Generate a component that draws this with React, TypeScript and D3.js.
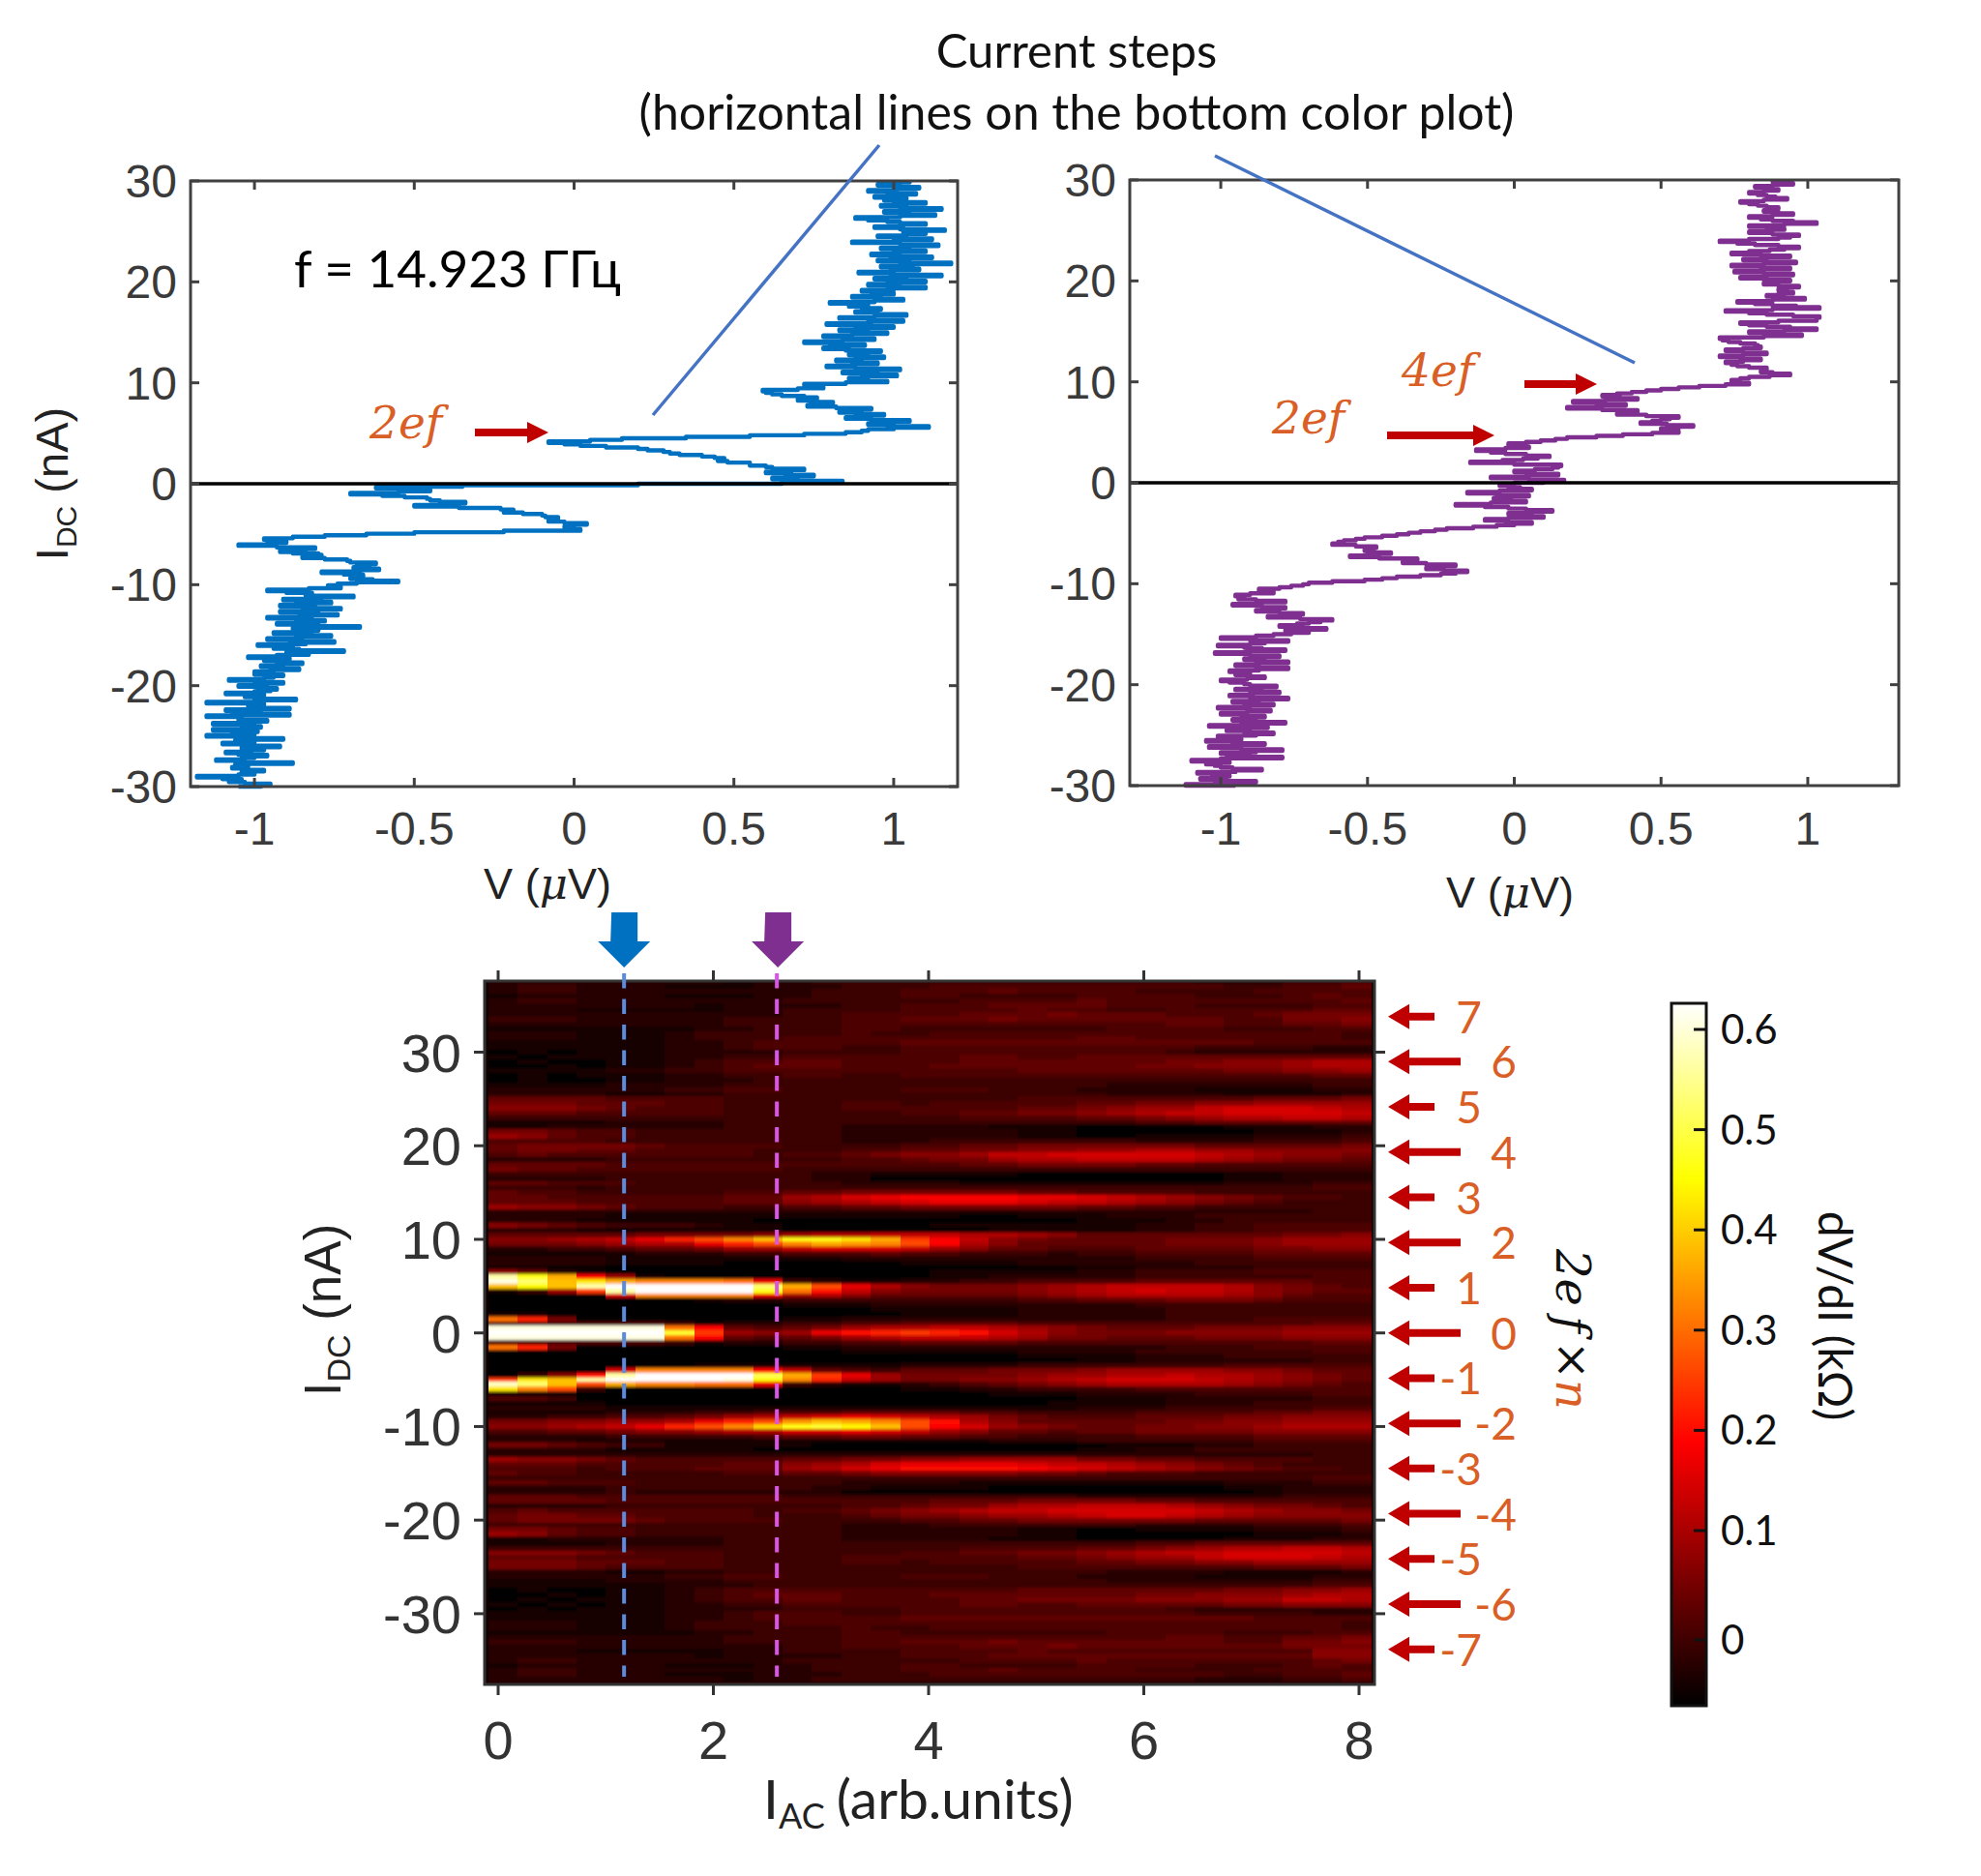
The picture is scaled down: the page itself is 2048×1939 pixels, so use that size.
import React from "react";
import * as d3 from "d3";

// I axis of the two V(I) traces: -30 .. 30 nA in 0.15 nA steps, 20 values per line
const blueV = [
  -1.05,-.98,-.95,-1.03,-1.08,-1.04,-1.1,-1.18,-1.05,-1,-1.04,-.97,-1.02,-1.07,-1.02,-1.06,-.88,-1.03,-1.12,-1.04,
  -1,-.96,-1.05,-1.09,-1.01,-.97,-1.04,-.92,-1.03,-1.1,-1,-1.06,-.91,-1.03,-1.15,-1,-1.07,-.99,-1.13,-1.03,
  -.98,-1.04,-1.13,-1,-.96,-1.05,-1.04,-1.15,-.89,-.98,-1.07,-1.09,-.89,-1,-1.02,-.97,-1.15,-.99,-.87,-1,
  -1.03,-.97,-1.09,-1,-.95,-.93,-.99,-1.05,-.96,-.91,-1,-1.08,-.97,-.94,-.91,-1,-1,-.94,-.86,-.95,
  -.98,-.91,-.85,-.93,-.97,-.89,-1.02,-.93,-.83,-.9,-.72,-.86,-.94,-.88,-.99,-.84,-.75,-.89,-.96,-.85,
  -.76,-.87,-.94,-.82,-.8,-.88,-.67,-.84,-.93,-.8,-.78,-.87,-.96,-.82,-.74,-.86,-.92,-.8,-.73,-.85,
  -.92,-.81,-.76,-.87,-.91,-.79,-.69,-.84,-.82,-.9,-.96,-.83,-.73,-.77,-.74,-.68,-.55,-.63,-.7,-.66,
  -.66,-.72,-.79,-.67,-.61,-.69,-.68,-.64,-.62,-.7,-.71,-.78,-.85,-.79,-.8,-.88,-.92,-.84,-.81,-.93,
  -1.05,-.95,-.9,-.96,-.97,-.88,-.78,-.65,-.5,-.22,.02,-.01,-.03,0,.04,-.03,-.08,-.06,-.05,-.09,
  -.1,-.16,-.22,-.19,-.23,-.36,-.5,-.4,-.34,-.42,-.45,-.46,-.53,-.6,-.7,-.55,-.45,-.55,-.62,-.35,
  .2,.65,.84,.7,.62,.7,.75,.66,.6,.68,.72,.62,.6,.55,.55,.48,.45,.47,.44,.4,
  .33,.3,.28,.23,.2,.1,.02,-.03,-.08,.05,.15,.35,.55,.72,.85,.9,.92,1,1.11,.98,
  .92,1,1.05,.93,.85,.92,.97,.88,.83,.9,.93,.82,.73,.78,.81,.74,.7,.76,.72,.65,
  .62,.6,.59,.7,.78,.74,.72,.85,.98,.9,.86,.92,1.01,.9,.84,.95,1.02,.88,.79,.87,
  .95,.87,.82,.9,.97,.88,.86,.92,.96,.85,.78,.86,.91,.8,.72,.84,.94,.86,.78,.87,
  .98,.9,.83,.92,1,.88,.79,.93,1.03,.92,.83,.94,1.04,.95,.88,.94,.96,.9,.86,.92,
  .8,.94,1.03,.95,.87,.96,1,.93,.9,1,1.1,.98,.92,1.02,1.1,.98,.94,1.04,1.15,.99,
  .89,1,1.08,.99,.96,1.06,1.18,1.02,.95,1.05,1.12,.99,.93,1.02,1.1,1,.96,1.05,1.14,1.02,
  .87,1,1.12,1.02,.95,1.04,1.1,1.03,1.16,1.02,.94,1.03,1.1,1.02,.98,.92,.88,1.02,1.13,1.03,
  .97,1.05,1.15,1.02,.96,1.04,1.1,1,.97,1.04,.94,1.01,1.07,.98,.92,1.01,1.08,1,.95,1.02,
  1.05,
];

const purpleV = [
  -.95,-1.12,-1.02,-.88,-.98,-1.07,-1,-.97,-1.03,-1.08,-.95,-.86,-.96,-1,-1.02,-1.05,-.97,-1.1,-1,-.79,
  -.9,-.98,-1,-.88,-.79,-.93,-1.04,-.95,-.85,-.96,-1.05,-.93,-.95,-1.01,-.88,-.82,-.92,-.98,-.9,-.84,
  -1.04,-.93,-.78,-.88,-.96,-.9,-.85,-.93,-1,-.91,-.83,-.9,-1.01,-.92,-.82,-.89,-.96,-.87,-.77,-.9,
  -.97,-.89,-.8,-.9,-.95,-.86,-.81,-.9,-.92,-.97,-1,-.91,-.85,-.9,-.95,-.9,-.97,-.87,-.77,-.88,
  -.95,-.87,-.77,-.88,-.92,-.85,-.8,-.9,-1.02,-.91,-.78,-.86,-.92,-1.01,-.9,-.85,-.77,-.9,-1,-.88,
  -.82,-.76,-.7,-.78,-.64,-.72,-.8,-.74,-.7,-.66,-.62,-.73,-.84,-.78,-.72,-.8,-.88,-.82,-.78,-.86,
  -.96,-.86,-.78,-.88,-.94,-.92,-.95,-.9,-.82,-.87,-.87,-.8,-.76,-.72,-.7,-.62,-.51,-.45,-.4,-.32,
  -.25,-.2,-.16,-.24,-.3,-.24,-.2,-.3,-.38,-.36,-.33,-.46,-.56,-.48,-.42,-.5,-.51,-.48,-.47,-.54,
  -.62,-.6,-.58,-.54,-.51,-.45,-.4,-.36,-.32,-.27,-.23,-.14,-.06,0,.06,-.03,-.1,-.02,.1,.02,
  -.02,.06,.13,.04,-.02,-.1,-.2,-.08,.04,-.02,-.07,-.01,.05,-.06,-.16,-.05,.06,.02,-.02,-.05,
  0,.1,.17,.05,-.08,.04,.15,.06,0,.07,.13,.15,.16,0,-.15,-.04,.03,.08,.12,.04,
  -.03,-.08,-.13,-.03,.05,.01,-.02,.04,.09,.14,.18,.28,.37,.47,.56,.53,.5,.56,.61,.52,
  .43,.47,.5,.53,.56,.45,.35,.38,.42,.3,.18,.28,.38,.29,.2,.31,.42,.36,.3,.35,
  .4,.45,.5,.56,.63,.72,.8,.77,.74,.77,.8,.87,.94,.88,.84,.85,.86,.8,.76,.74,
  .72,.78,.84,.77,.7,.78,.86,.78,.72,.78,.84,.83,.82,.77,.73,.71,.7,.85,.98,.88,
  .8,.92,1.03,.94,.86,.8,.77,.9,1.03,1.03,1.04,.95,.86,.8,.72,.88,1.04,.96,.88,.82,
  .76,.88,.99,.92,.86,.9,.95,.92,.9,.93,.97,.9,.85,.89,.94,.85,.77,.86,.95,.85,
  .75,.85,.94,.84,.74,.85,.96,.86,.78,.86,.94,.84,.74,.8,.87,.92,.97,.9,.82,.76,
  .7,.8,.9,.94,.97,.88,.8,.86,.92,.86,.8,.92,1.03,.95,.88,.84,.8,.88,.95,.9,
  .85,.87,.9,.86,.83,.8,.77,.85,.93,.89,.86,.83,.8,.85,.9,.86,.82,.88,.95,.91,
  .88,
];

// colour plot, top row 37.5 nA, bottom row -37.5 nA, 0.5 nA apart, 30 I_AC columns.
// one base-36 digit per cell, dV/dI = digit * 0.02 - 0.07 kOhm
const heatRows = [
  "2222222212 2333333333 3333222334",
  "2332221112 2233344444 4444433445",
  "2332222222 2333444544 4433334444",
  "1222221112 2333443333 4444333454",
  "2332222222 3333334444 5444444445",
  "2222222122 2233444555 5444333344",
  "2221111122 3333444454 4334444455",
  "2222222222 3344445556 5554445666",
  "3332222233 3344555655 5555544667",
  "2222222233 3344444444 4445544556",

  "1111111223 3344333333 3444433344",
  "2221112333 3343344444 4444444443",
  "2221112333 4444444444 5544444443",
  "1111112234 4444555555 5555554444",
  "1111112234 4433444444 4444333322",
  "0101112222 3333444444 4443222222",
  "1011112233 4444445544 5555555555",
  "0100112344 5544445555 5556677899",
  "0010112345 5544455555 5566777899",
  "1111223344 4444444455 5555566778",

  "0101112233 4433444444 4444444455",
  "0100112223 3333333333 3333333333",
  "1111222233 3333333333 3222222233",
  "2222223344 3333444333 2222111122",
  "2222112233 3333333333 3222211112",
  "5555444433 3333333344 4444445556",
  "6665554433 3344344444 5566778888",
  "7776544433 3344444455 6788abbba9",
  "5554444433 3333445566 789aabbbba",
  "3333333333 3333334444 5567899aa9",

  "1111222233 3333333333 3344555555",
  "1122222233 3322222111 0000011122",
  "6654433333 3322222211 0000001112",
  "8754433333 3322222211 0011112223",
  "4444333333 3322233333 3322223334",
  "5666654444 3333445566 6666555556",
  "5665544443 3344556677 8899887777",
  "4544444443 4456778aab bbbba98776",
  "2222333333 3344566899 aaaa987665",
  "5555444444 4444445566 6655444444",

  "6554444444 3333333333 3333333333",
  "3333333333 3221111100 0000011222",
  "2222333333 3220000000 0000011222",
  "5544433333 3322221111 1111122233",
  "3332333333 3333333333 3333333344",
  "5443333344 5566666655 4444333333",
  "5544444455 89bcddddcc ba98765443",
  "5554444455 789abcccba a987654333",
  "8776544433 4455666666 5544333333",
  "2222222222 2222222222 2222222233",

  "2222111111 1111110011 1222333333",
  "2221111110 0000000000 1112233333",
  "7654333211 0000011111 1122334444",
  "2221111111 0000000111 1122334444",
  "5555566667 899aaa9987 5555555667",
  "7789acfhkn rrpmgda765 5556667888",
  "6667899cfh kmlkhd9755 5556667888",
  "2233455688 abbba87554 4455556677",
  "1111122233 4445443332 3344445555",
  "2222111111 1122222222 2233334444",

  "2222111100 0000111122 2222333333",
  "1100000000 0000000000 1122223333",
  "7521000000 0000011111 2233334444",
  "wrmd810000 0000011222 2233333344",
  "yunpmkkkjc 3211223344 4455555544",
  "nqnwzzzzzu mhc9766678 9aaaa97654",
  "138gwzzzzr jea7666678 9abaa97655",
  "0000bkkkkc 8975555567 8999987544",
  "0000000122 3333333344 5556665444",
  "0000000000 1112222222 2233333333",

  "0000000000 0001111122 2223333333",
  "1100000000 0000111122 2223333333",
  "jf60000000 1122222222 2223334444",
  "4444443122 3344555544 4444444455",
  "yyyyyyjd54 56899aa987 6555666777",
  "zzzzzzsg87 8cefgfeb97 6667777888",
  "yyyyyyjd54 5689aaa986 6555666777",
  "4444443122 3344555544 4444444455",
  "jf60000000 1122222222 2223334444",
  "0000000000 0011111122 2233333344",

  "0000000000 0000000011 1122233333",
  "0000000000 0000000000 1122222233",
  "0000000111 1111222233 3333344444",
  "0000bkkkkd a543555666 7888877655",
  "037ewzzzzt mgc8666678 899a998765",
  "gpnwzzzzyq kfa8667789 abbba98765",
  "xunhmkkjjc 3211234567 8999987654",
  "pkh3000000 0000112233 3344444444",
  "1000000000 0000000111 2222333344",
  "4430000000 0000000000 1112222233",

  "1111000000 0000000001 1112223333",
  "2222111111 1111111111 2223333344",
  "1111222334 4455554433 3344445566",
  "2233445689 abcba98654 4455566777",
  "6677889cfh lnmkhe9755 5556677888",
  "7789acfhko rsqnhdb876 5566778999",
  "4455677899 bbcba87554 5566667777",
  "2222333334 5566554433 3344445555",
  "2221111111 1111111222 3333334444",
  "6654331111 1000000000 0111223333",

  "2222111110 0000000000 1122333333",
  "2222222222 2222222222 2222222233",
  "8776544444 5566778888 6655444433",
  "5554444455 789bccccba a987654333",
  "4443444555 89bceeeedc ba98765443",
  "5443333344 5567777766 5444333333",
  "3333333333 3333333333 3333333344",
  "5544433333 3322221111 1111122233",
  "2222333333 3221111000 0000011222",
  "2222322222 2200000000 0000001222",

  "5554444444 3333333333 2222222333",
  "5555444444 4444455566 6655444444",
  "2222333333 3344566899 aaa9876654",
  "4544444443 4456789aab bbbba98776",
  "5665544443 3345667889 abba987777",
  "5666654444 3333445566 6666555556",
  "3333333333 3322233333 3322223334",
  "6654433333 3322222211 0011112223",
  "8754433333 3322222211 0000001112",
  "1122222233 3322222111 0000011122",

  "1111222233 3333333333 3344555555",
  "3333333333 3333334444 5567899aa9",
  "7776544433 3333445566 789aabbbba",
  "5554444433 3344444455 6788abbba9",
  "6665554433 3344344444 5566778888",
  "6665444433 3333333344 4444445556",
  "2222112233 3333333333 3222211112",
  "2222223344 3333444333 2222111122",
  "1111222233 3333333333 3222222233",
  "1111112223 3333333333 3333333344",

  "0100112344 4444444455 5555566778",
  "0010112345 5544455555 5566777899",
  "0101112344 5544445566 6677788aa9",
  "1010112233 4444445544 5555566777",
  "0101112222 3333444444 4443222222",
  "1111112234 4433444444 4444333322",
  "1111112234 4444555555 5555554444",
  "2221112333 4444444444 4444444443",
  "2221112333 3343344444 4444444443",
  "1111111223 3344333333 3444433344",

  "2222222233 3344444444 4445544556",
  "3332222233 3344555655 5555544667",
  "2222222222 3344445556 5555555666",
  "2221111122 3333444454 4444444477",
  "2222222122 2233444555 5555555577",
  "2332222222 3333334444 5444444456",
  "1222221112 2333443333 4444333454",
  "2332222222 2333444544 4433334444",
  "2332221112 2233344444 4444433445",
  "2222222212 2333333333 3333222334",

  "2222222222 2222222222 2222222222",
];

const vTicksLeft = [-1, -0.5, 0, 0.5, 1];
const vTicksRight = [-1, -0.5, 0, 0.5, 1];
const iTicksTop = [-30, -20, -10, 0, 10, 20, 30];
const acTicks = [0, 2, 4, 6, 8];
const dcTicks = [-30, -20, -10, 0, 10, 20, 30];
const cbarTicks = [0, 0.1, 0.2, 0.3, 0.4, 0.5, 0.6];
const stepNumbers = [7, 6, 5, 4, 3, 2, 1, 0, -1, -2, -3, -4, -5, -6, -7];
const stepSize = 4.83; // nA per step, 2ef
const cutBlue = 1.17;
const cutPurple = 2.59;

const hotColor = d3
  .scaleLinear<string>()
  .domain([-0.07, 0.1925, 0.4550, 0.63])
  .range(["#000000", "#ff0000", "#ffff00", "#ffffff"])
  .clamp(true);

const TICK_FONT = "'Liberation Sans', Arial, sans-serif";
const LATO = "Lato, 'Open Sans', sans-serif";
const MATH = "'DejaVu Serif', 'Liberation Serif', serif";
const ORANGE = "#d95f26";
const ARROW_RED = "#c00000";
const AXIS = "#404040";

function Arrow({ x1, x2, y, w = 8, head = 22, hh = 11 }: any) {
  const dir = x2 > x1 ? 1 : -1;
  return (
    <path
      fill={ARROW_RED}
      d={`M${x1},${y - w / 2}L${x2 - dir * head},${y - w / 2}L${x2 - dir * head},${y - hh}L${x2},${y}L${x2 - dir * head},${y + hh}L${x2 - dir * head},${y + w / 2}L${x1},${y + w / 2}Z`}
    />
  );
}

function TracePanel({ left, right, top, bottom, vMax, values, color, labelX, labelY, vTicks }: any) {
  const x = d3.scaleLinear().domain([-vMax, vMax]).range([left, right]);
  const y = d3.scaleLinear().domain([-30, 30]).range([bottom, top]);
  // stepped so that the noise reads as horizontal spikes around a solid core
  const line = d3
    .line<number>()
    .x((d) => x(d))
    .y((_, i) => y(-30 + i * 0.15))
    .curve(d3.curveStepAfter);
  return (
    <g>
      <path d={line(values) ?? ""} fill="none" stroke={color} strokeWidth={4.4} strokeLinejoin="round" />
      <line x1={left} x2={right} y1={y(0)} y2={y(0)} stroke="#000" strokeWidth={3.5} />
      <rect x={left} y={top} width={right - left} height={bottom - top} fill="none" stroke={AXIS} strokeWidth={3} />
      {vTicks.map((t: number) => (
        <g key={t}>
          <line x1={x(t)} x2={x(t)} y1={top} y2={top + 9} stroke={AXIS} strokeWidth={3} />
          <line x1={x(t)} x2={x(t)} y1={bottom} y2={bottom - 9} stroke={AXIS} strokeWidth={3} />
          <text x={x(t)} y={873} textAnchor="middle" fontFamily={TICK_FONT} fontSize={48} fill="#3a3a3a">
            {t}
          </text>
        </g>
      ))}
      {iTicksTop.map((t) => (
        <g key={t}>
          <line x1={left} x2={left + 9} y1={y(t)} y2={y(t)} stroke={AXIS} strokeWidth={3} />
          <line x1={right} x2={right - 9} y1={y(t)} y2={y(t)} stroke={AXIS} strokeWidth={3} />
          <text x={left - 14} y={y(t) + 17} textAnchor="end" fontFamily={TICK_FONT} fontSize={48} fill="#3a3a3a">
            {t}
          </text>
        </g>
      ))}
      <text x={labelX} y={labelY} textAnchor="middle" fontFamily={TICK_FONT} fontSize={45} fill="#222">
        V (<tspan fontFamily={MATH} fontStyle="italic">μ</tspan>V)
      </text>
    </g>
  );
}

function HeatPanel() {
  const left = 501;
  const right = 1421;
  const top = 1014;
  const bottom = 1741;
  const x = d3.scaleLinear().domain([0, 8]).range([515, 1405]);
  const y = d3.scaleLinear().domain([30, -30]).range([1087.5, 1667.9]);
  const colStart = -0.092;
  const colWidth = 0.2735;
  const cells = heatRows.flatMap((row, r) => {
    const digits = row.replace(/ /g, "");
    const rowI = 37.5 - r * 0.5;
    return digits.split("").map((ch, c) => ({ r, c, rowI, v: parseInt(ch, 36) * 0.02 - 0.07 }));
  });
  return (
    <g>
      <defs>
        <clipPath id="heatClip">
          <rect x={left} y={top} width={right - left} height={bottom - top} />
        </clipPath>
        <filter id="rowBlur" x="0" y="-2%" width="100%" height="104%">
          <feGaussianBlur stdDeviation="0 1.4" />
        </filter>
      </defs>
      <rect x={left} y={top} width={right - left} height={bottom - top} fill="#100000" />
      <g clipPath="url(#heatClip)">
        <g filter="url(#rowBlur)">
          {cells.map((d) => (
            <rect
              key={`${d.r}-${d.c}`}
              x={x(colStart + d.c * colWidth)}
              y={y(d.rowI + 0.25)}
              width={x(colWidth) - x(0) + 0.5}
              height={y(0) - y(0.5) + 0.5}
              fill={hotColor(d.v)}
              shapeRendering="crispEdges"
            />
          ))}
        </g>
      </g>
      <rect x={left} y={top} width={right - left} height={bottom - top} fill="none" stroke="#333" strokeWidth={3} />
      {acTicks.map((t) => (
        <g key={t}>
          <line x1={x(t)} x2={x(t)} y1={top} y2={top - 11} stroke="#333" strokeWidth={3} />
          <line x1={x(t)} x2={x(t)} y1={bottom} y2={bottom + 11} stroke="#333" strokeWidth={3} />
          <text x={x(t)} y={1818} textAnchor="middle" fontFamily={TICK_FONT} fontSize={56} fill="#333">
            {t}
          </text>
        </g>
      ))}
      {dcTicks.map((t) => (
        <g key={t}>
          <line x1={left} x2={left - 11} y1={y(t)} y2={y(t)} stroke="#333" strokeWidth={3} />
          <line x1={right} x2={right + 11} y1={y(t)} y2={y(t)} stroke="#333" strokeWidth={3} />
          <text x={477} y={y(t) + 20} textAnchor="end" fontFamily={TICK_FONT} fontSize={56} fill="#333">
            {t}
          </text>
        </g>
      ))}
      {/* cuts shown on the top panels */}
      <line x1={x(cutBlue)} x2={x(cutBlue)} y1={1006} y2={1733} stroke="#5b8bdc" strokeWidth={4} strokeDasharray="15.5 11" />
      <line x1={x(cutPurple)} x2={x(cutPurple)} y1={1006} y2={1733} stroke="#d955e8" strokeWidth={4} strokeDasharray="15.5 11" />
      <path fill="#0070c0" d={`M${x(cutBlue) - 13},943h27v30h13l-27,27l-27,-27h13Z`} />
      <path fill="#7f2f8f" d={`M${x(cutPurple) - 12},943h27v30h13l-27,27l-27,-27h13Z`} />
      {/* steps */}
      {stepNumbers.map((n) => {
        const long = n % 2 === 0;
        const yy = y(n * stepSize);
        return (
          <g key={n}>
            <Arrow x1={long ? 1510 : 1483} x2={1435} y={yy} w={8} head={22} hh={13} />
            <text x={long ? 1568 : 1532} y={yy + 17} textAnchor="end" fontFamily={LATO} fontSize={46} fill={ORANGE}>
              {n}
            </text>
          </g>
        );
      })}
      <text
        transform="translate(1609,1374) rotate(90)"
        textAnchor="middle"
        fontFamily={MATH}
        fontStyle="italic"
        fontSize={48}
        fill="#111"
      >
        2e<tspan dx={10}>f</tspan>
        <tspan dx={8}>×</tspan>
        <tspan fill={ORANGE}>n</tspan>
      </text>
      <text transform="translate(352,1354) rotate(-90)" textAnchor="middle" fontFamily={TICK_FONT} fontSize={53} fill="#222">
        I<tspan fontSize={34} dy={10}>DC</tspan>
        <tspan dy={-10}> (nA)</tspan>
      </text>
      <text x={789} y={1880} fontFamily={LATO} fontSize={57} fill="#222">
        I<tspan fontSize={36} dy={10}>AC</tspan>
        <tspan dy={-10} dx={12}>(arb.units)</tspan>
      </text>
    </g>
  );
}

function ColorBar() {
  const left = 1728;
  const right = 1764;
  const top = 1037;
  const bottom = 1763;
  const y = d3.scaleLinear().domain([0, 0.1, 0.6]).range([1695, 1582, 1064]);
  const stops = hotColor.domain();
  const frac = d3.scaleLinear().domain([-0.07, 0.63]).range([0, 100]);
  return (
    <g>
      <defs>
        <linearGradient id="hotBar" x1="0" x2="0" y1="1" y2="0">
          {stops.map((s) => (
            <stop key={s} offset={`${frac(s)}%`} stopColor={hotColor(s)} />
          ))}
        </linearGradient>
      </defs>
      <rect x={left} y={top} width={right - left} height={bottom - top} fill="url(#hotBar)" stroke="#111" strokeWidth={3} />
      {cbarTicks.map((t) => (
        <g key={t}>
          <line x1={right} x2={right - 13} y1={y(t)} y2={y(t)} stroke="#111" strokeWidth={3} />
          <text x={1779} y={y(t) + 15} fontFamily={LATO} fontSize={42} fill="#111">
            {t}
          </text>
        </g>
      ))}
      <text transform="translate(1880,1360) rotate(90)" textAnchor="middle" fontFamily={LATO} fontSize={48} fill="#111">
        dV/dI (kΩ)
      </text>
    </g>
  );
}

export default function App() {
  return (
    <svg
      width={2048}
      height={1939}
      viewBox="0 0 2048 1939"
      style={{ position: "absolute", left: 0, top: 0, background: "#fff" }}
    >
      <TracePanel left={197} right={990} top={187} bottom={813} vMax={1.2} values={blueV} color="#0070c0" labelX={566} labelY={929} vTicks={vTicksLeft} />
      <TracePanel left={1168} right={1963} top={186} bottom={812} vMax={1.31} values={purpleV} color="#7f2f8f" labelX={1561} labelY={938} vTicks={vTicksRight} />

      <text transform="translate(70,500) rotate(-90)" textAnchor="middle" fontFamily={TICK_FONT} fontSize={47} fill="#222">
        I<tspan fontSize={30} dy={9}>DC</tspan>
        <tspan dy={-9}> (nA)</tspan>
      </text>

      <text x={1113} y={70} textAnchor="middle" fontFamily={LATO} fontSize={49} fill="#111">
        Current steps
      </text>
      <text x={1113} y={134} textAnchor="middle" fontFamily={LATO} fontSize={50} fill="#111">
        (horizontal lines on the bottom color plot)
      </text>
      <line x1={909} y1={150} x2={675} y2={429} stroke="#4472c4" strokeWidth={3.5} />
      <line x1={1256} y1={161} x2={1690} y2={375} stroke="#4472c4" strokeWidth={3.5} />
      <text x={304} y={297} fontFamily={LATO} fontSize={53} fill="#000">
        f = 14.923 ГГц
      </text>

      <text x={382} y={453} fontFamily={MATH} fontStyle="italic" fontSize={47} fill={ORANGE}>2ef</text>
      <Arrow x1={491} x2={567} y={447} />
      <text x={1315} y={448} fontFamily={MATH} fontStyle="italic" fontSize={47} fill={ORANGE}>2ef</text>
      <Arrow x1={1434} x2={1545} y={450} />
      <text x={1449} y={399} fontFamily={MATH} fontStyle="italic" fontSize={47} fill={ORANGE}>4ef</text>
      <Arrow x1={1576} x2={1651} y={397} />

      <HeatPanel />
      <ColorBar />
    </svg>
  );
}
